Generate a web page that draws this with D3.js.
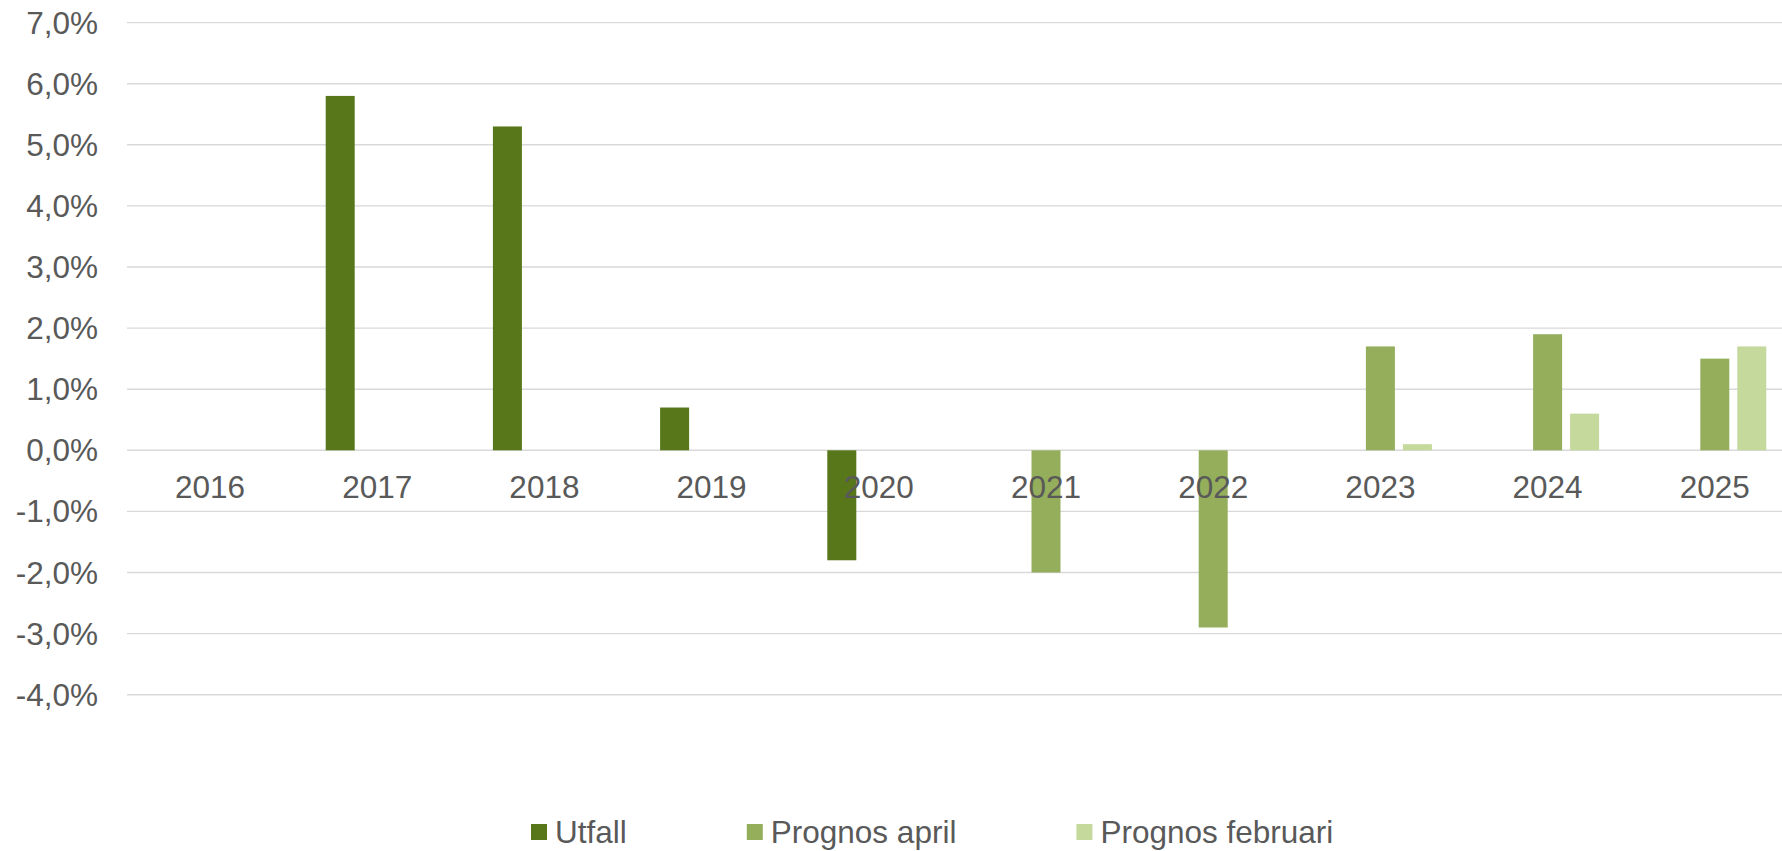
<!DOCTYPE html>
<html>
<head>
<meta charset="utf-8">
<script src="https://cdn.jsdelivr.net/npm/d3@7"></script>
<style>
  html, body { margin: 0; padding: 0; background: #fff; overflow: hidden; }
  text { font-family: "Liberation Sans", Arial, sans-serif; fill: #595959; }
</style>
</head>
<body>
<div id="chart-wrapper"></div>
<script>
const years = ["2016", "2017", "2018", "2019", "2020", "2021", "2022", "2023", "2024", "2025"];
const seriesNames = ["Utfall", "Prognos april", "Prognos februari"];
const utfall = [null, 5.8, 5.3, 0.7, -1.8, null, null, null, null, null];
const prognosApril = [null, null, null, null, null, -2.0, -2.9, 1.7, 1.9, 1.5];
const prognosFebruari = [null, null, null, null, null, null, null, 0.1, 0.6, 1.7];
const yTicks = [7, 6, 5, 4, 3, 2, 1, 0, -1, -2, -3, -4];
const colors = ["#57771a", "#94ae5c", "#c4d99b"];

const width = 1782, height = 851;
const values = [utfall, prognosApril, prognosFebruari];

const svg = d3.select("#chart-wrapper").append("svg")
      .attr("width", width)
      .attr("height", height);

const x0 = d3.scaleBand()
      .domain(years)
      .range([126.4, 1798.4])
      .padding(0);

const x1 = d3.scaleBand()
      .domain(seriesNames)
      .range([0, x0.bandwidth()])
      .paddingInner(8 / 37)
      .paddingOuter(0.868);

const y = d3.scaleLinear()
      .domain([-4, 7])
      .range([694.7, 22.6]);

// gridlines
svg.append("g")
      .selectAll("line")
      .data(yTicks)
      .join("line")
      .attr("x1", 127)
      .attr("x2", width)
      .attr("y1", d => y(d))
      .attr("y2", d => y(d))
      .attr("stroke", "#d9d9d9")
      .attr("stroke-width", 1.4);

// y labels
svg.append("g")
      .selectAll("text")
      .data(yTicks)
      .join("text")
      .attr("x", 98)
      .attr("y", d => y(d))
      .attr("dy", "0.35em")
      .attr("text-anchor", "end")
      .style("font-size", "31.5px")
      .text(d => d.toFixed(1).replace(".", ",") + "%");

// bars
const bars = [];
seriesNames.forEach((name, s) => {
      values[s].forEach((v, i) => {
            if (v !== null) bars.push({year: years[i], series: name, value: v, color: colors[s]});
      });
});

svg.append("g")
      .selectAll("rect")
      .data(bars)
      .join("rect")
      .attr("x", d => x0(d.year) + x1(d.series))
      .attr("width", x1.bandwidth())
      .attr("y", d => y(Math.max(0, d.value)))
      .attr("height", d => Math.abs(y(d.value) - y(0)))
      .attr("fill", d => d.color);

// x labels (drawn over the bars)
svg.append("g")
      .selectAll("text")
      .data(years)
      .join("text")
      .attr("x", d => x0(d) + x0.bandwidth() / 2)
      .attr("y", y(0) + 48)
      .attr("text-anchor", "middle")
      .style("font-size", "31.5px")
      .text(d => d);

// legend
const legend = svg.append("g").attr("transform", "translate(531,824)");
let lx = 0;
seriesNames.forEach((name, s) => {
      const item = legend.append("g").attr("transform", "translate(" + lx + ",0)");
      item.append("rect")
            .attr("width", 16)
            .attr("height", 16)
            .attr("fill", colors[s]);
      const t = item.append("text")
            .attr("x", 24)
            .attr("y", 8)
            .attr("dy", "0.35em")
            .style("font-size", "31.5px")
            .text(name);
      lx += 24 + t.node().getComputedTextLength() + 120;
});
</script>
</body>
</html>
